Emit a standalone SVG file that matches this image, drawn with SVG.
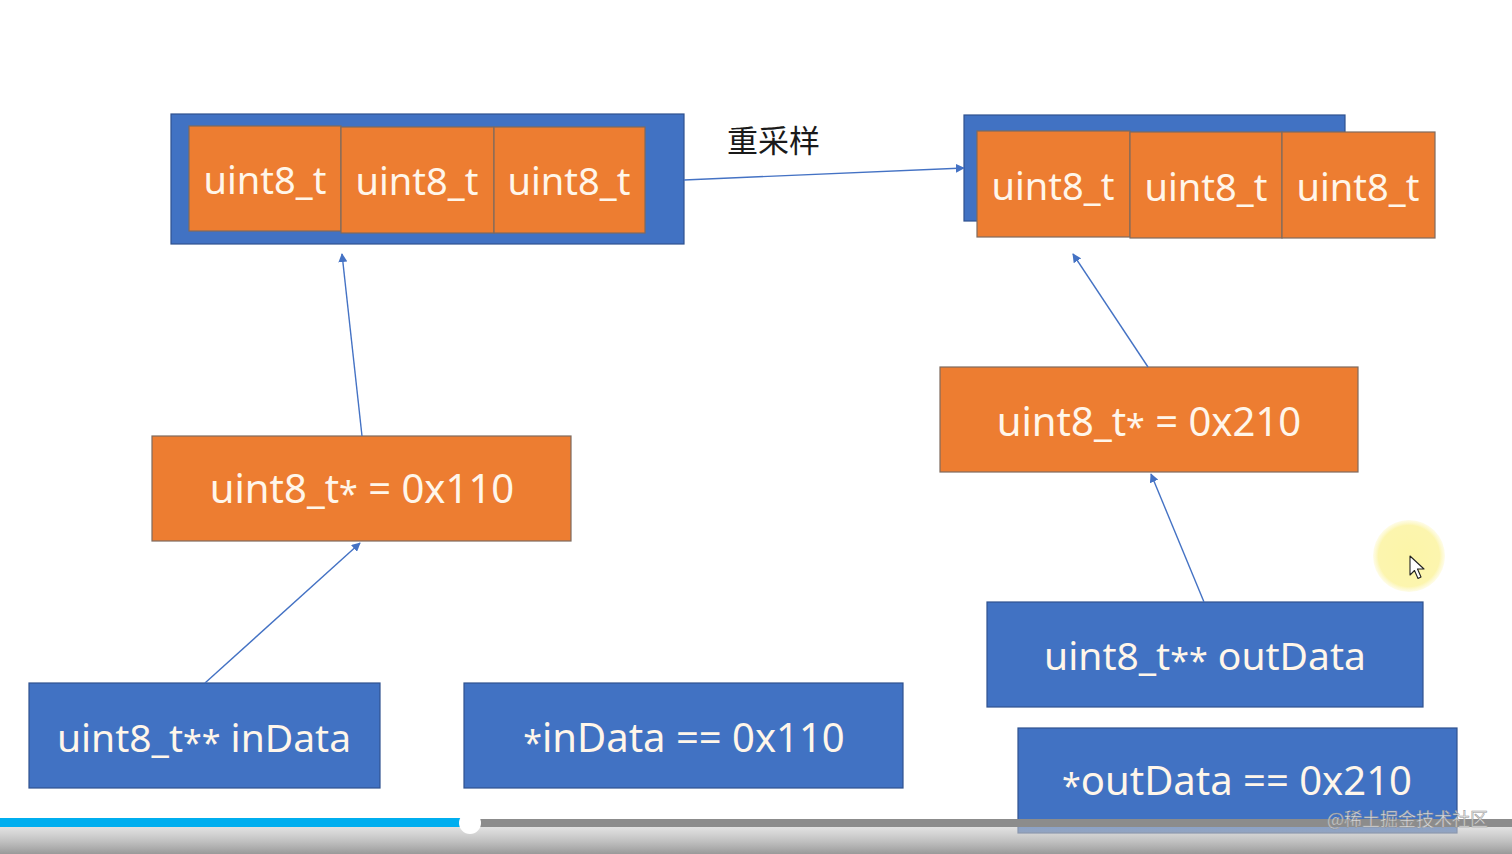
<svg xmlns="http://www.w3.org/2000/svg" width="1512" height="854" viewBox="0 0 1512 854">
<style>
.blue{fill:#4172C3;stroke:#2F528F;stroke-width:1.2}
.orange{fill:#ED7D31;stroke:#7F6A5E;stroke-width:1.2}
.lbl{font-family:"Noto Sans","Open Sans","Liberation Sans",sans-serif;fill:#FFF6EA;text-anchor:middle}
.cell{font-size:38px}
.big{font-size:40px}
.mid{font-size:39px}
.st{font-size:34px;baseline-shift:-3px}
.conn{stroke:#4472C4;stroke-width:1.4;fill:none;marker-end:url(#ah)}
.cn{font-family:"Noto Sans CJK SC","Noto Sans",sans-serif;font-size:31px;fill:#1a1a1a}
</style>
<defs>
<marker id="ah" viewBox="0 0 10 10" refX="9" refY="5" markerWidth="9" markerHeight="9" markerUnits="userSpaceOnUse" orient="auto">
<path d="M0 0 L10 5 L0 10 Z" fill="#4472C4"/>
</marker>
<linearGradient id="bot" x1="0" y1="0" x2="0" y2="1">
<stop offset="0" stop-color="#c9c9c9" stop-opacity="0.55"/>
<stop offset="1" stop-color="#999999" stop-opacity="1"/>
</linearGradient>
<radialGradient id="hl" cx="0.5" cy="0.5" r="0.5">
<stop offset="0" stop-color="#fcf5a8"/>
<stop offset="0.85" stop-color="#fcf5ae"/>
<stop offset="1" stop-color="#fdf8c8" stop-opacity="0.4"/>
</radialGradient>
</defs>
<rect width="1512" height="854" fill="#ffffff"/>

<g id="src-buffer">
<rect class="blue" x="171" y="114" width="513" height="130"/>
<rect class="orange" x="189" y="126" width="152" height="105"/>
<rect class="orange" x="341" y="127" width="153" height="106"/>
<rect class="orange" x="494" y="127" width="151" height="106"/>
<text class="lbl cell" x="265" y="194">uint8_t</text>
<text class="lbl cell" x="417" y="195">uint8_t</text>
<text class="lbl cell" x="569" y="195">uint8_t</text>
</g>

<g id="dst-buffer">
<rect class="blue" x="964" y="115" width="381" height="106"/>
<rect class="orange" x="977" y="131" width="153" height="106"/>
<rect class="orange" x="1130" y="132" width="152" height="106"/>
<rect class="orange" x="1282" y="132" width="153" height="106"/>
<text class="lbl cell" x="1053" y="200">uint8_t</text>
<text class="lbl cell" x="1206" y="201">uint8_t</text>
<text class="lbl cell" x="1358" y="201">uint8_t</text>
</g>

<g id="resample-label">
<text class="cn" x="727" y="152">重采样</text>
</g>

<g id="in-ptr">
<rect class="orange" x="152" y="436" width="419" height="105"/>
<text class="lbl big" x="362" y="503">uint8_t<tspan class="st">*</tspan> = 0x110</text>
</g>

<g id="out-ptr">
<rect class="orange" x="940" y="367" width="418" height="105"/>
<text class="lbl big" x="1149" y="436">uint8_t<tspan class="st">*</tspan> = 0x210</text>
</g>

<g id="inData">
<rect class="blue" x="29" y="683" width="351" height="105"/>
<text class="lbl mid" x="204" y="752">uint8_t<tspan class="st">**</tspan> inData</text>
</g>

<g id="inData-deref">
<rect class="blue" x="464" y="683" width="439" height="105"/>
<text class="lbl big" x="684" y="752"><tspan class="st">*</tspan>inData == 0x110</text>
</g>

<g id="outData">
<rect class="blue" x="987" y="602" width="436" height="105"/>
<text class="lbl mid" x="1205" y="670">uint8_t<tspan class="st">**</tspan> outData</text>
</g>

<g id="outData-deref">
<rect class="blue" x="1018" y="728" width="439" height="105"/>
<text class="lbl big" x="1237" y="795"><tspan class="st">*</tspan>outData == 0x210</text>
</g>

<g id="connectors">
<line class="conn" x1="684" y1="180" x2="964" y2="168"/>
<line class="conn" x1="362" y1="436" x2="342" y2="254"/>
<line class="conn" x1="205" y1="683" x2="360" y2="543"/>
<line class="conn" x1="1148" y1="367" x2="1073" y2="254"/>
<line class="conn" x1="1204" y1="602" x2="1151" y2="474"/>
</g>

<g id="cursor">
<circle cx="1409" cy="556" r="36" fill="url(#hl)"/>
<path d="M1410 556 L1410 575 L1414.5 570.5 L1418 578.5 L1421 577 L1417.5 569 L1424 569 Z" fill="#ffffff" stroke="#222" stroke-width="1.1" stroke-linejoin="round"/>
</g>

<g id="player-bar">
<rect x="0" y="827" width="1512" height="27" fill="url(#bot)"/>
<rect x="470" y="819" width="1042" height="8" fill="#8c8c8c"/>
<rect x="0" y="818" width="470" height="9" fill="#00AEEF"/>
<circle cx="470" cy="823" r="11" fill="#ffffff"/>
<text x="1327" y="826" style="font-family:'Noto Sans CJK SC','Noto Sans',sans-serif;font-size:18px;fill:#e6e6e6;stroke:#8a8a8a;stroke-width:0.5;opacity:0.9">@稀土掘金技术社区</text>
</g>
</svg>
